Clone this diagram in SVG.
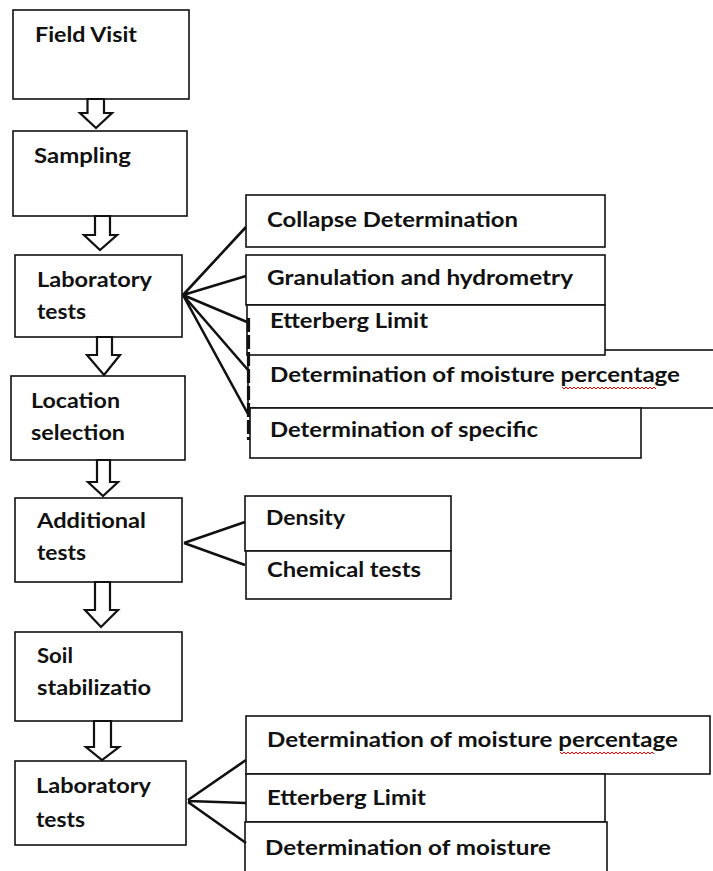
<svg xmlns="http://www.w3.org/2000/svg" width="713" height="871" viewBox="0 0 713 871">
<style>
.box{fill:#fff;stroke:#111;stroke-width:1.6}
.t{font-family:Lato,"Open Sans","Liberation Sans",sans-serif;font-weight:bold;font-size:21px;fill:#111}
.arr{fill:#fff;stroke:#111;stroke-width:2.2;stroke-linejoin:miter}
.ln{stroke:#111;stroke-width:2.6;fill:none}
.sq{stroke:#e00;stroke-width:1;fill:none}
</style>
<rect width="713" height="871" fill="#fff"/>
<g id="field-visit"><rect class="box" x="13" y="10" width="176" height="89"/><text class="t" x="35" y="42" textLength="102" lengthAdjust="spacingAndGlyphs">Field Visit</text></g>
<g id="sampling"><rect class="box" x="13" y="131" width="174" height="85"/><text class="t" x="34" y="163" textLength="97" lengthAdjust="spacingAndGlyphs">Sampling</text></g>
<g id="lab-tests-1"><rect class="box" x="15" y="255" width="167" height="82"/><text class="t" x="37" y="287" textLength="115" lengthAdjust="spacingAndGlyphs">Laboratory</text><text class="t" x="37" y="319" textLength="49" lengthAdjust="spacingAndGlyphs">tests</text></g>
<g id="location-selection"><rect class="box" x="11" y="376" width="174" height="84"/><text class="t" x="31" y="408" textLength="89" lengthAdjust="spacingAndGlyphs">Location</text><text class="t" x="31" y="440" textLength="94" lengthAdjust="spacingAndGlyphs">selection</text></g>
<g id="additional-tests"><rect class="box" x="15" y="498" width="167" height="84"/><text class="t" x="37" y="528" textLength="109" lengthAdjust="spacingAndGlyphs">Additional</text><text class="t" x="37" y="560" textLength="49" lengthAdjust="spacingAndGlyphs">tests</text></g>
<g id="soil-stabilization"><rect class="box" x="15" y="632" width="167" height="89"/><text class="t" x="37" y="663" textLength="36" lengthAdjust="spacingAndGlyphs">Soil</text><text class="t" x="37" y="695" textLength="114" lengthAdjust="spacingAndGlyphs">stabilizatio</text></g>
<g id="lab-tests-2"><rect class="box" x="15" y="761" width="171" height="84"/><text class="t" x="36" y="793" textLength="115" lengthAdjust="spacingAndGlyphs">Laboratory</text><text class="t" x="36" y="827" textLength="49" lengthAdjust="spacingAndGlyphs">tests</text></g>

<g id="collapse"><rect class="box" x="246" y="195" width="359" height="52"/><text class="t" x="267" y="227" textLength="251" lengthAdjust="spacingAndGlyphs">Collapse Determination</text></g>
<g id="granulation"><rect class="box" x="246" y="255" width="359" height="50"/><text class="t" x="267" y="285" textLength="306" lengthAdjust="spacingAndGlyphs">Granulation and hydrometry</text></g>
<g id="moisture-1"><rect class="box" x="248" y="350" width="470" height="58"/><text class="t" x="270" y="382" textLength="410" lengthAdjust="spacingAndGlyphs">Determination of moisture percentage</text><path class="sq" d="M562,387 l2,2 l2,-2 l2,2 l2,-2 l2,2 l2,-2 l2,2 l2,-2 l2,2 l2,-2 l2,2 l2,-2 l2,2 l2,-2 l2,2 l2,-2 l2,2 l2,-2 l2,2 l2,-2 l2,2 l2,-2 l2,2 l2,-2 l2,2 l2,-2 l2,2 l2,-2 l2,2 l2,-2 l2,2 l2,-2 l2,2 l2,-2 l2,2 l2,-2 l2,2 l2,-2 l2,2 l2,-2 l2,2 l2,-2 l2,2 l2,-2 l2,2 l2,-2 l2,2"/></g>
<g id="etterberg-1"><rect class="box" x="247" y="305" width="358" height="50"/><text class="t" x="270" y="328" textLength="158" lengthAdjust="spacingAndGlyphs">Etterberg Limit</text></g>
<g id="specific"><rect class="box" x="250" y="408" width="391" height="50"/><text class="t" x="270" y="437" textLength="268" lengthAdjust="spacingAndGlyphs">Determination of specific</text></g>

<g id="density"><rect class="box" x="245" y="496" width="206" height="55"/><text class="t" x="266" y="525" textLength="79" lengthAdjust="spacingAndGlyphs">Density</text></g>
<g id="chemical"><rect class="box" x="246" y="551" width="205" height="48"/><text class="t" x="267" y="577" textLength="154" lengthAdjust="spacingAndGlyphs">Chemical tests</text></g>

<g id="moisture-2"><rect class="box" x="246" y="716" width="464" height="58"/><text class="t" x="267" y="747" textLength="411" lengthAdjust="spacingAndGlyphs">Determination of moisture percentage</text><path class="sq" d="M560,752 l2,2 l2,-2 l2,2 l2,-2 l2,2 l2,-2 l2,2 l2,-2 l2,2 l2,-2 l2,2 l2,-2 l2,2 l2,-2 l2,2 l2,-2 l2,2 l2,-2 l2,2 l2,-2 l2,2 l2,-2 l2,2 l2,-2 l2,2 l2,-2 l2,2 l2,-2 l2,2 l2,-2 l2,2 l2,-2 l2,2 l2,-2 l2,2 l2,-2 l2,2 l2,-2 l2,2 l2,-2 l2,2 l2,-2 l2,2 l2,-2 l2,2 l2,-2 l2,2"/></g>
<g id="etterberg-2"><rect class="box" x="246" y="774" width="359" height="48"/><text class="t" x="267" y="805" textLength="159" lengthAdjust="spacingAndGlyphs">Etterberg Limit</text></g>
<g id="moisture-3"><rect class="box" x="245" y="822" width="362" height="60"/><text class="t" x="265" y="855" textLength="286" lengthAdjust="spacingAndGlyphs">Determination of moisture</text></g>

<g id="connectors">
  <path class="arr" d="M87.5,99 V113 H80 L96,128 L112,113 H104 V99 Z"/>
  <path class="arr" d="M95,216 V235 H84 L100,250 L117,235 H110 V216 Z"/>
  <path class="arr" d="M97,337 V355 H87 L104,375 L120,355 H112 V337 Z"/>
  <path class="arr" d="M97,460 V482 H88 L103,496 L118,482 H110 V460 Z"/>
  <path class="arr" d="M95,582 V610 H85 L101,627 L118,610 H110 V582 Z"/>
  <path class="arr" d="M94,721 V747 H86 L102,760 L119,747 H111 V721 Z"/>
  <path class="ln" d="M183,295 L246,227 M183,295 L246,276 M183,295 L247,322 M183,295 L248,370 M183,295 L248,414"/>
  <path class="ln" d="M184,543 L245,522 M184,543 L245,565"/>
  <path class="ln" d="M188,800 L246,760 M188,801 L246,803 M188,802 L246,843"/>
  <path d="M248.5,318 V440" stroke="#111" stroke-width="3.2" stroke-dasharray="14,3" fill="none"/>
</g>
</svg>
